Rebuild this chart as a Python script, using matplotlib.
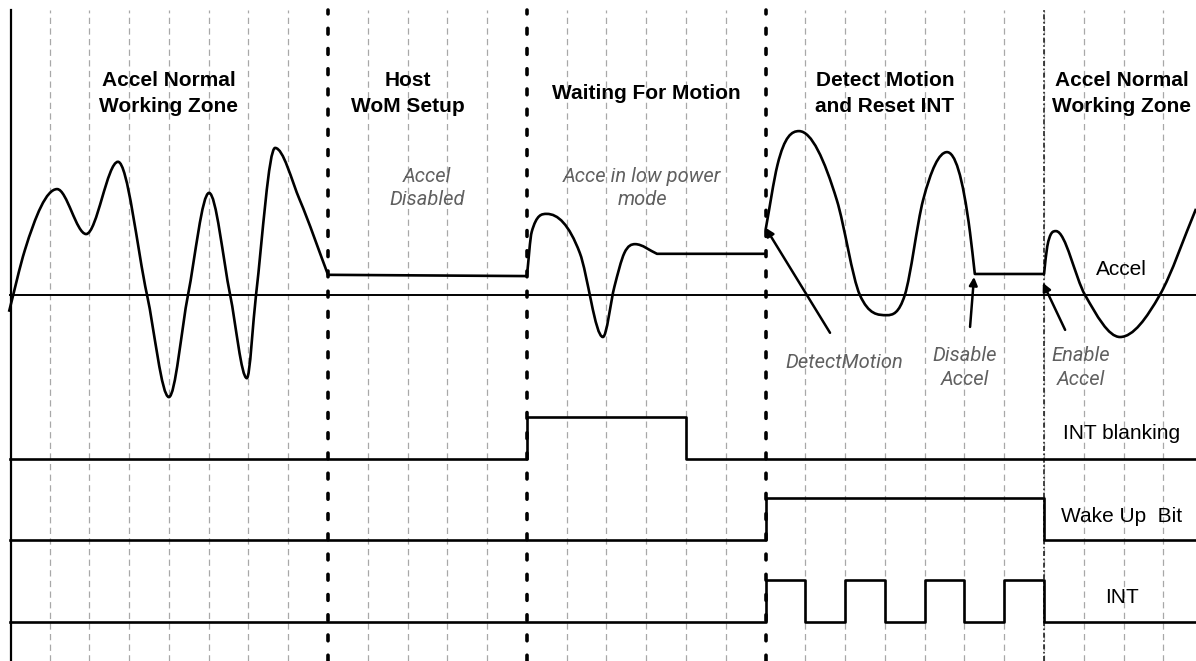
import numpy as np
import matplotlib
matplotlib.use("Agg")
import matplotlib.pyplot as plt
from matplotlib.path import Path
from matplotlib.patches import PathPatch

# time is counted in grid steps, level in signal units (1 = digital high)
T_END = 29.82

# Accel waveform (corners between pieces)
accel_pieces = [
    # normal working zone
    ([-0.02, 0.38, 1.19, 1.92, 2.72, 3.45, 4.00, 4.48, 5.01, 5.54, 5.96, 6.19, 6.67, 7.29, 8.0],
     [-0.40, 1.07, 2.52, 1.45, 3.17, 0.0, -2.43, 0.0, 2.43, 0.0, -1.98, 0.0, 3.50, 2.26, 0.48]),
    # accel disabled
    ([8.0, 13.0], [0.48, 0.45]),
    # low power mode
    ([13.0, 13.12, 13.50, 14.33, 14.91, 15.20, 15.45, 15.72, 16.27],
     [0.45, 1.50, 1.93, 1.00, -1.00, 0.20, 1.00, 1.21, 0.98]),
    ([16.27, 19.0, 19.0], [0.98, 0.98, 1.55]),
    # detect motion
    ([19.0, 19.30, 19.84, 20.79, 21.37, 22.05, 22.50, 22.96, 23.56, 24.14, 24.26],
     [1.55, 3.10, 3.90, 2.26, 0.0, -0.48, 0.0, 2.26, 3.40, 1.48, 0.50]),
    ([24.26, 26.0], [0.50, 0.50]),
    # normal again
    ([26.0, 26.08, 26.30, 27.03, 27.91, 28.91, 29.82],
     [0.50, 1.15, 1.52, 0.0, -1.00, 0.0, 2.05]),
]

blank_t = [0, 13, 17, T_END]
blank_v = [0, 1, 0, 0]
wake_t = [0, 19, 26, T_END]
wake_v = [0, 1, 0, 0]
int_t = [0, 19, 20, 21, 22, 23, 24, 25, 26, T_END]
int_v = [0, 1, 0, 1, 0, 1, 0, 1, 0, 0]

phase_edges = [8, 13, 19]
phase_titles = ["Accel Normal\nWorking Zone", "Host\nWoM Setup", "Waiting For Motion",
                "Detect Motion\nand Reset INT", "Accel Normal\nWorking Zone"]
phase_title_t = [4.0, 10.0, 16.0, 22.0, 27.95]
notes = ["Accel\nDisabled", "Acce in low power\nmode"]
notes_t = [10.5, 15.9]

# arrows: (label, label t, label level, tail, head)
arrows = [
    ("DetectMotion", 20.97, -1.6, (20.62, -0.90), (19.0, 1.60)),
    ("Disable\nAccel", 24.01, -1.73, (24.14, -0.76), (24.24, 0.43)),
    ("Enable\nAccel", 26.92, -1.73, (26.53, -0.83), (25.97, 0.29)),
]

signal_names = ["Accel", "INT blanking", "Wake Up  Bit", "INT"]
lane_base = [0.0, -3.90, -5.83, -7.79]
Y_TOP, Y_BOT = 7.02, -8.71


def bezier_path(ts, vs):
    # monotone cubic hermite through the read points, as bezier segments
    x = np.asarray(ts, float)
    y = np.asarray(vs, float)
    if len(x) == 2:
        return [(x[0], y[0]), (x[1], y[1])], [Path.MOVETO, Path.LINETO]
    n = len(x)
    h = np.diff(x)
    s = np.diff(y) / h
    m = np.zeros(n)
    m[0] = s[0]
    m[-1] = s[-1]
    for i in range(1, n - 1):
        if s[i - 1] * s[i] > 0:
            m[i] = (s[i - 1] * h[i] + s[i] * h[i - 1]) / (h[i - 1] + h[i])
            lim = 3 * min(abs(s[i - 1]), abs(s[i]))
            m[i] = np.clip(m[i], -lim, lim)
    verts = [(x[0], y[0])]
    codes = [Path.MOVETO]
    for i in range(n - 1):
        verts += [(x[i] + h[i] / 3, y[i] + m[i] * h[i] / 3),
                  (x[i + 1] - h[i] / 3, y[i + 1] - m[i + 1] * h[i] / 3),
                  (x[i + 1], y[i + 1])]
        codes += [Path.CURVE4] * 3
    return verts, codes


fig = plt.figure(figsize=(11.96, 6.61), dpi=100)
ax = fig.add_axes([0, 0, 1, 1])
ax.set_xlim(-0.246, T_END)
ax.set_ylim(Y_BOT, Y_TOP)
ax.axis("off")

grid_top = 6.79
for k in range(1, 30):
    if k in phase_edges:
        continue
    ax.plot([k, k], [Y_BOT, grid_top], color="#a8a8a8", lw=0.9,
            linestyle=(0, (5, 3.5)), zorder=1)
for k in phase_edges:
    ax.plot([k, k], [Y_BOT, grid_top], color="black", lw=2.6,
            linestyle=(0, (1.6, 4.0)), dash_capstyle="round", zorder=2)
ax.plot([26, 26], [Y_BOT, grid_top], color="#222222", lw=1.2,
        linestyle=(0, (3, 1.5, 1, 1.5)), zorder=2)

# left axis and accel baseline
ax.plot([0.02, 0.02], [Y_BOT, grid_top], color="black", lw=1.6, zorder=3)
ax.plot([0, T_END], [0, 0], color="black", lw=1.4, zorder=3)

# accel curve
verts, codes = [], []
for ts, vs in accel_pieces:
    v, c = bezier_path(ts, vs)
    if verts:
        c = [Path.LINETO] + c[1:]
    verts += v
    codes += c
ax.add_patch(PathPatch(Path(verts, codes), fill=False, edgecolor="black", lw=1.9,
                       joinstyle="round", zorder=4))

# digital lanes
for ts, vs, base in [(blank_t, blank_v, lane_base[1]), (wake_t, wake_v, lane_base[2]),
                     (int_t, int_v, lane_base[3])]:
    ax.plot(ts, np.array(vs) + base, drawstyle="steps-post", color="black", lw=1.9, zorder=4)

for txt, t in zip(phase_titles, phase_title_t):
    ax.text(t, 4.79, txt, ha="center", va="center", fontsize=15, fontweight="bold",
            family="Liberation Sans", linespacing=1.45, zorder=5)

light = dict(family="Roboto", fontweight="normal", style="italic", color="#606060",
             fontsize=14.5, linespacing=1.3, ha="center", va="center", zorder=5)
for txt, t in zip(notes, notes_t):
    ax.text(t, 2.55, txt, **light)

for txt, tx, ty, tail, head in arrows:
    ax.annotate("", xy=head, xytext=tail,
                arrowprops=dict(arrowstyle="-|>", color="black", lw=1.8,
                                mutation_scale=12, shrinkA=0, shrinkB=0), zorder=5)
    ax.text(tx, ty, txt, **light)

label_lvl = [0.60, -3.29, -5.27, -7.21]
for name, ty in zip(signal_names, label_lvl):
    ax.text(27.95, ty, name, ha="center", va="center", fontsize=15,
            family="Liberation Sans", zorder=5)

fig.savefig("out.png", dpi=100, facecolor="white")
